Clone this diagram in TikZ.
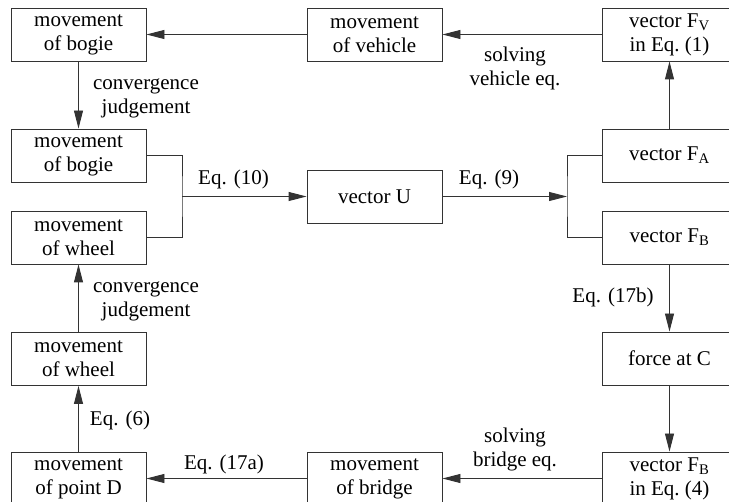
\documentclass[tikz,border=0pt]{standalone}
\usepackage{fontspec}
\setmainfont{Liberation Serif}
\usetikzlibrary{arrows.meta}
\begin{document}
\begin{tikzpicture}[x=1pt,y=-1pt,
 box/.style={draw=black!80, line width=0.9pt, minimum width=135pt, minimum height=53pt, inner sep=0pt, align=center, font=\fontsize{21}{24}\selectfont},
 lbl/.style={inner sep=0pt, align=center, font=\fontsize{21}{24}\selectfont},
 conn/.style={draw=black!80, line width=0.9pt},
 arr/.style={conn, -{Triangle[length=18pt,width=9pt]}}]
\useasboundingbox (0,0) rectangle (729,502);
% boxes
\node[box] (bogie1) at (78.5,34.5) {movement\\of bogie};
\node[box] (vehicle) at (374.5,34.5) {movement\\of vehicle};
\node[box] (FV) at (669.5,34.5) {vector F\textsubscript{V}\\in Eq.~(1)};
\node[box] (bogie2) at (78.5,155.5) {movement\\of bogie};
\node[box] (U) at (374.5,196.5) {vector U};
\node[box] (FA) at (669.5,155.5) {vector F\textsubscript{A}};
\node[box] (wheel1) at (78.5,237.5) {movement\\of wheel};
\node[box] (FB) at (669.5,237.5) {vector F\textsubscript{B}};
\node[box] (wheel2) at (78.5,359) {movement\\of wheel};
\node[box] (C) at (669.5,358.5) {force at C};
\node[box] (D) at (78.5,478.5) {movement\\of point D};
\node[box] (bridge) at (374.5,478.5) {movement\\of bridge};
\node[box] (FB4) at (669.5,478.5) {vector F\textsubscript{B}\\in Eq.~(4)};
% junctions
\coordinate (jl) at (182,196.5);
\coordinate (jr) at (567,196.5);
% connectors
\draw[arr] (vehicle) -- (bogie1);
\draw[arr] (FV) -- (vehicle);
\draw[arr] (bogie1) -- (bogie2);
\draw[arr] (FA) -- (FV);
\draw[conn] (bogie2.east) -| (jl) |- (wheel1.east);
\draw[arr] (jl) -- (U);
\draw[arr] (U) -- (jr);
\draw[conn] (FA.west) -| (jr) |- (FB.west);
\draw[arr] (FB) -- (C);
\draw[arr] (C) -- (FB4);
\draw[arr] (FB4) -- (bridge);
\draw[arr] (bridge) -- (D);
\draw[arr] (D) -- (wheel2);
\draw[arr] (wheel2) -- (wheel1);
% labels
\node[lbl] (l1) at (146,98.5) {convergence\\judgement};
\node[lbl] (l2) at (146,301.5) {convergence\\judgement};
\node[lbl, anchor=base] (l3) at (233.5,185) {Eq. (10)};
\node[lbl, anchor=base] (l4) at (489,185) {Eq. (9)};
\node[lbl] (l5) at (515,68) {solving\\vehicle eq.};
\node[lbl] (l6) at (515,449) {solving\\bridge eq.};
\node[lbl, anchor=base] (l7) at (613,303) {Eq. (17b)};
\node[lbl, anchor=base] (l8) at (224,470) {Eq. (17a)};
\node[lbl, anchor=base] (l9) at (120,426) {Eq. (6)};
\end{tikzpicture}
\end{document}
